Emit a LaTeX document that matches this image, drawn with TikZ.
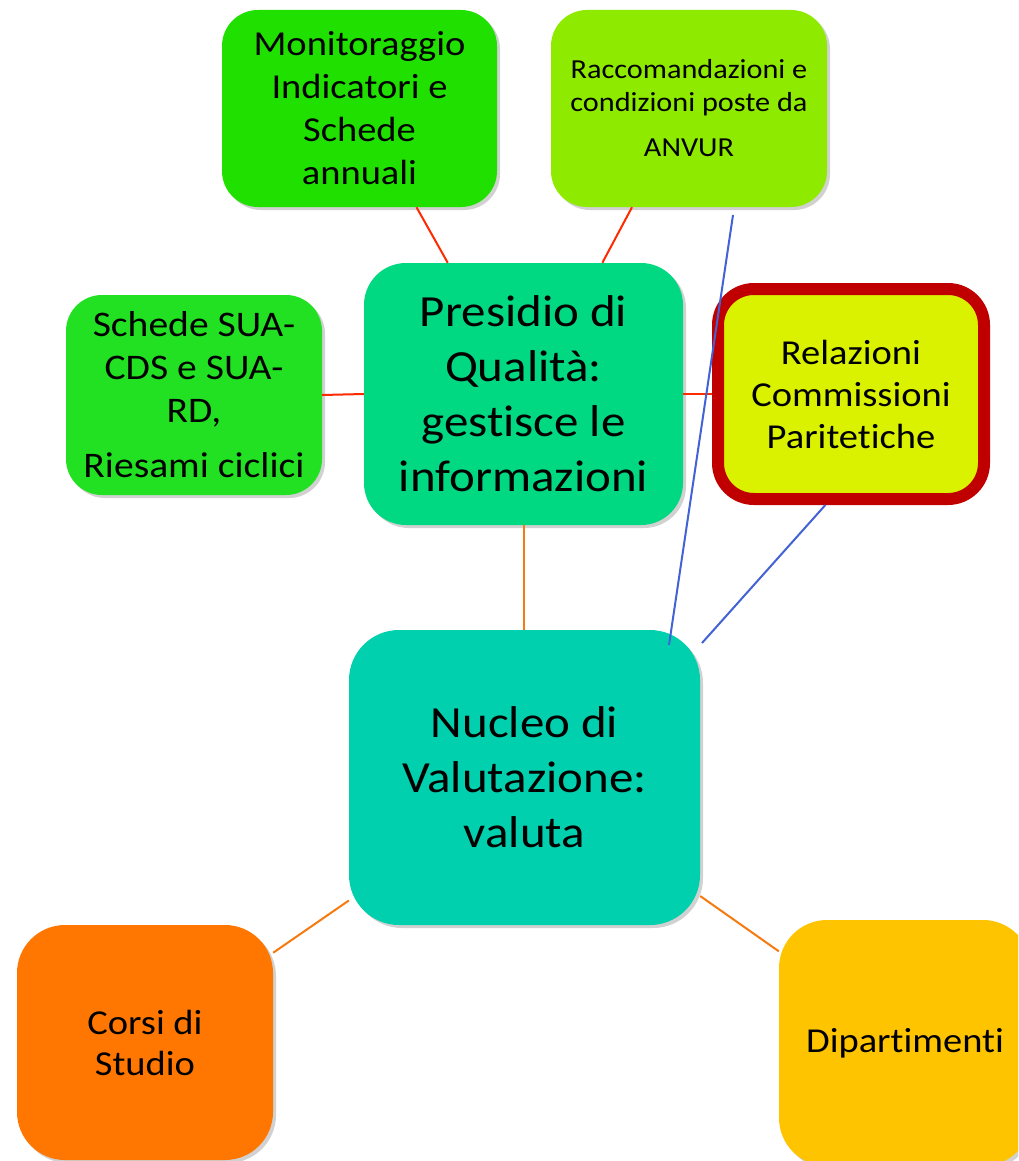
\documentclass[tikz,border=0pt]{standalone}
\usepackage{fontspec}
\setmainfont[FakeStretch=1.1,Ligatures=NoCommon]{Carlito}
\usetikzlibrary{shadows}
\definecolor{cMon}{HTML}{20E000}
\definecolor{cRac}{HTML}{8EEB00}
\definecolor{cSch}{HTML}{22E022}
\definecolor{cPre}{HTML}{00D982}
\definecolor{cRel}{HTML}{DAF200}
\definecolor{cRelB}{HTML}{C00000}
\definecolor{cNuc}{HTML}{00D0AE}
\definecolor{cCor}{HTML}{FF7700}
\definecolor{cDip}{HTML}{FFC400}
\definecolor{lRed}{HTML}{FF2A00}
\definecolor{lOra}{HTML}{F57A10}
\definecolor{lBlu}{HTML}{4262D6}
\tikzset{
  box/.style={rectangle, rounded corners=36pt, inner sep=0pt, align=center,
    drop shadow={shadow xshift=3pt, shadow yshift=-3pt, opacity=0.18, fill=black}},
  redline/.style={draw=lRed, line width=2pt},
  oraline/.style={draw=lOra, line width=2pt},
  bluline/.style={draw=lBlu, line width=2pt},
}
\begin{document}
\begin{tikzpicture}[x=1pt,y=-1pt]
\useasboundingbox (0,0) rectangle (1018,1161);
\clip (0,0) rectangle (1018,1161);
\fill[white] (0,0) rectangle (1018,1161);

\node[box, fill=cMon, minimum width=275pt, minimum height=197pt,
  font=\fontsize{35}{43}\selectfont] (mon) at (359.5,108.5)
  {Monitoraggio\\Indicatori e\\Schede\\annuali};
\node[box, fill=cRac, minimum width=276pt, minimum height=197pt,
  font=\fontsize{27.5}{33}\selectfont] (rac) at (689,108.5)
  {Raccomandazioni e\\condizioni poste da\\[12pt]ANVUR};
\node[box, fill=cSch, minimum width=256pt, minimum height=200pt,
  font=\fontsize{36}{43}\selectfont] (sch) at (194,395)
  {Schede SUA-\\CDS e SUA-\\RD,\\[12pt]Riesami ciclici};
\node[box, rounded corners=42pt, fill=cPre, minimum width=319pt, minimum height=262pt,
  font=\fontsize{44.5}{55}\selectfont] (pre) at (523.5,394)
  {Presidio di\\Qualità:\\gestisce le\\informazioni};
\node[box, rounded corners=36pt, fill=cRel, draw=cRelB, line width=12pt,
  minimum width=266pt, minimum height=210pt,
  font=\fontsize{35}{42}\selectfont] (rel) at (851,394)
  {Relazioni\\Commissioni\\Paritetiche};
\node[box, rounded corners=50pt, fill=cNuc, minimum width=351pt, minimum height=295pt,
  font=\fontsize{44.5}{55}\selectfont] (nuc) at (524.5,777.5)
  {Nucleo di\\Valutazione:\\valuta};
\node[box, rounded corners=48pt, fill=cCor, minimum width=256pt, minimum height=235pt,
  font=\fontsize{35}{41}\selectfont] (cor) at (145,1042.5)
  {Corsi di\\Studio};
\node[box, rounded corners=48pt, fill=cDip, minimum width=252pt, minimum height=246pt,
  font=\fontsize{35}{41}\selectfont] (dip) at (905,1043)
  {Dipartimenti};

% red connectors
\draw[redline] (mon.-60.6) -- (pre.120.3);
\draw[redline] (rac.-120.1) -- (pre.59.7);
\draw[redline] (sch.east) -- (pre.west);
\draw[redline] (pre.east) -- (rel.west);
% orange connectors
\draw[oraline] (pre.south) -- (pre.south |- nuc.north);
\draw[oraline] (nuc.-145.1) -- (cor.35.3);
\draw[oraline] (nuc.-34.9) -- (dip.144.5);
% blue connectors
\coordinate (b1) at (733,215);
\coordinate (b2) at (669,645);
\coordinate (b4) at (702,643);
\draw[bluline] (b1) -- (b2);
\draw[bluline] (rel.-103.2) -- (b4);
\end{tikzpicture}
\end{document}
